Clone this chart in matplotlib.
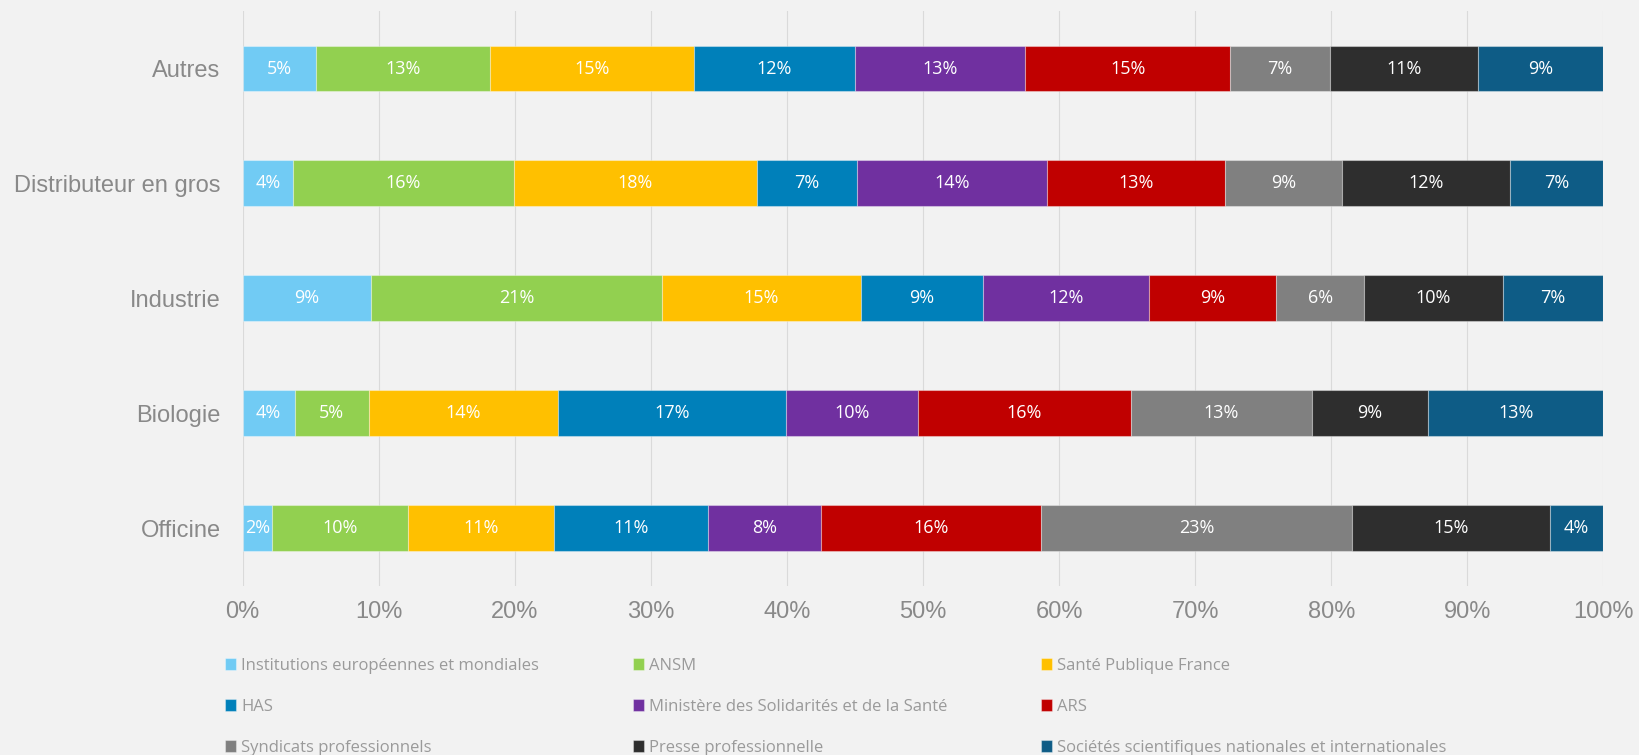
import matplotlib.pyplot as plt
import numpy as np

# categories top to bottom
categories = ["Autres", "Distributeur en gros", "Industrie", "Biologie", "Officine"]

series = [
    "Institutions européennes et mondiales",
    "ANSM",
    "Santé Publique France",
    "HAS",
    "Ministère des Solidarités et de la Santé",
    "ARS",
    "Syndicats professionnels",
    "Presse professionnelle",
    "Sociétés scientifiques nationales et internationales",
]

# share (%) of each series, per category, in the series order above
autres = [5.42, 12.76, 15.02, 11.76, 12.54, 15.06, 7.31, 10.93, 9.20]
distributeur = [3.73, 16.17, 17.87, 7.34, 14.00, 13.05, 8.61, 12.38, 6.85]
industrie = [9.45, 21.37, 14.61, 9.00, 12.19, 9.35, 6.41, 10.22, 7.40]
biologie = [3.81, 5.45, 13.91, 16.79, 9.67, 15.62, 13.32, 8.53, 12.90]
officine = [2.15, 10.03, 10.72, 11.26, 8.36, 16.12, 22.88, 14.54, 3.94]

xticks = [0, 10, 20, 30, 40, 50, 60, 70, 80, 90, 100]

colors = ["#71CBF4", "#92D050", "#FFC000", "#0080BA", "#7030A0",
          "#C00000", "#808080", "#2E2E2E", "#0E5C86"]

bg = "#f2f2f2"
grey_txt = "#898989"
label_font = {"family": ["Open Sans", "DejaVu Sans"]}

fig = plt.figure(figsize=(16.39, 7.55), dpi=100, facecolor=bg)
ax = fig.add_axes([0.1481, 0.2241, 0.8302, 0.7613])
ax.set_facecolor(bg)

values = np.array([autres, distributeur, industrie, biologie, officine])
y = np.arange(len(categories))
left = np.zeros(len(categories))
handles = []
for j, name in enumerate(series):
    vals = values[:, j]
    bars = ax.barh(y, vals, left=left, height=0.4, color=colors[j],
                   edgecolor=(1, 1, 1, 0.35), linewidth=0.8, label=name)
    ax.bar_label(bars, labels=[f"{v:.0f}%" for v in vals], label_type="center",
                 color="white", fontsize=13, **label_font)
    left += vals
    handles.append(bars)

ax.set_xlim(0, 100)
ax.set_ylim(len(categories) - 0.5, -0.5)
ax.set_yticks(y)
ax.set_yticklabels(categories, family="Liberation Sans", fontsize=17, color=grey_txt)
ax.set_xticks(xticks)
ax.set_xticklabels([f"{t}%" for t in xticks], family="Liberation Sans", fontsize=17, color=grey_txt)
ax.tick_params(axis="x", length=0, pad=11)
ax.tick_params(axis="y", length=0, pad=16)
ax.grid(axis="x", color="#dadada", linewidth=0.8)
ax.set_axisbelow(True)
for s in ax.spines.values():
    s.set_visible(False)

# legend: three columns, row-major order like the original
col_x = [225 / 1639, 633 / 1639, 1041 / 1639]
for c in range(3):
    idx = [c, c + 3, c + 6]
    fig.legend([handles[i] for i in idx], [series[i] for i in idx],
               loc="upper left", bbox_to_anchor=(col_x[c], 1 - 658 / 755),
               bbox_transform=fig.transFigure, ncol=1, frameon=False,
               borderpad=0, borderaxespad=0, handlelength=0.66, handleheight=0.72,
               handletextpad=0.3, labelspacing=1.5, labelcolor="#9a9a9a",
               prop={"family": ["Open Sans", "DejaVu Sans"], "size": 12})

fig.savefig("out.png", dpi=100, facecolor=bg)
